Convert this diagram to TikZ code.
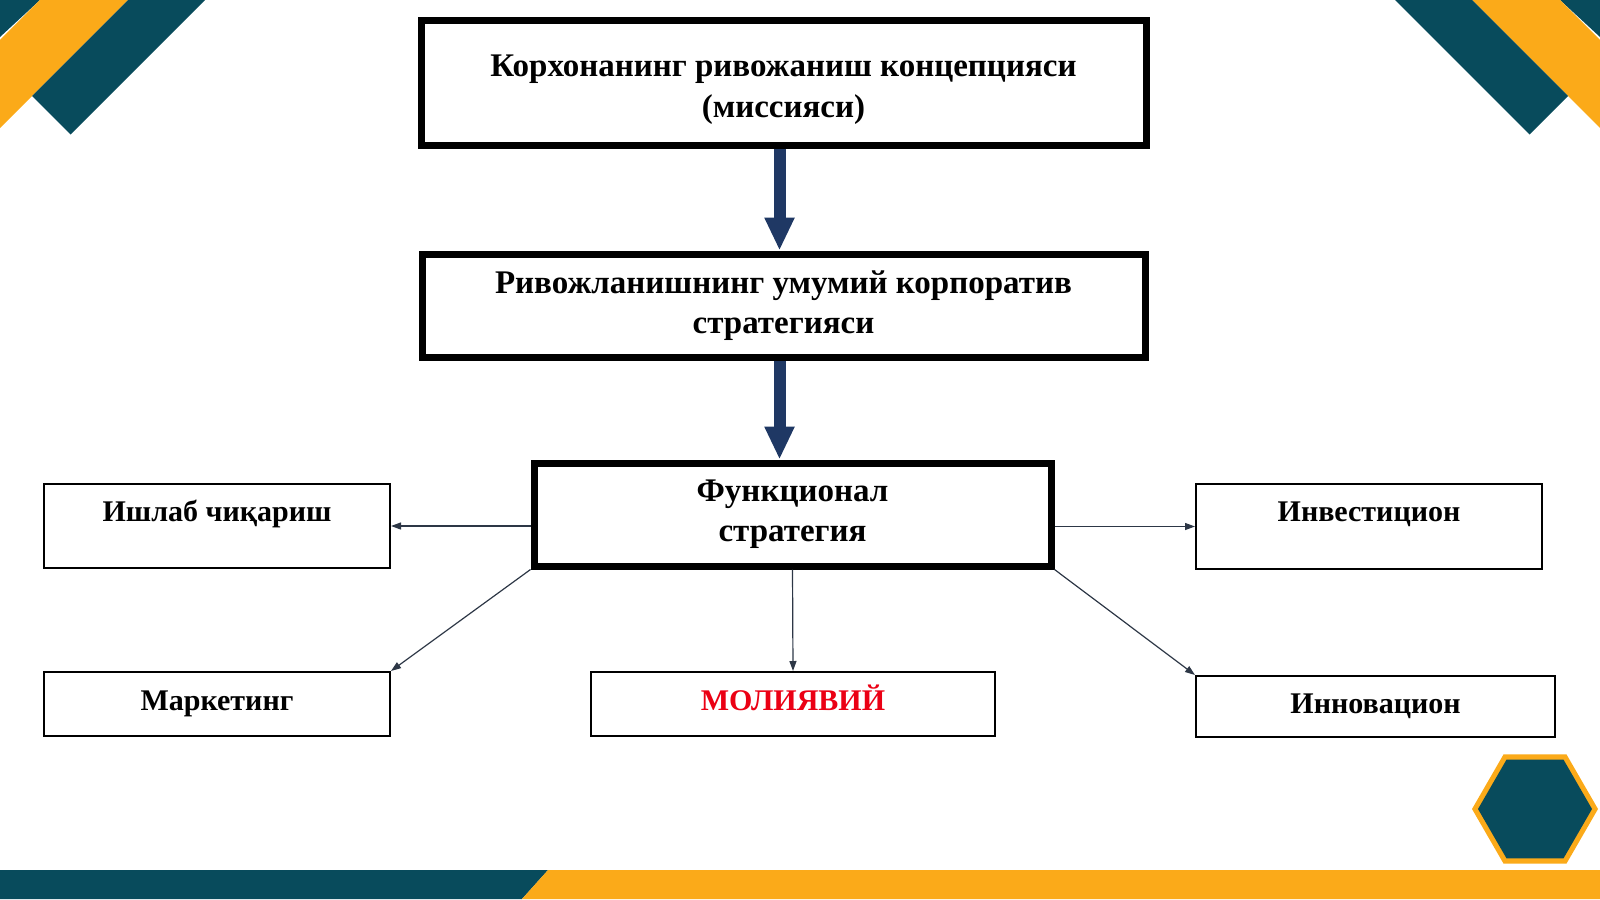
\documentclass[tikz,border=0pt]{standalone}
\usepackage{fontspec}
\setmainfont{Liberation Serif}
\usepackage{xcolor}
\usetikzlibrary{arrows.meta,shapes.geometric}

\definecolor{tealband}{RGB}{8,75,92}
\definecolor{orangeband}{RGB}{251,170,25}
\definecolor{navyarrow}{RGB}{31,56,100}
\definecolor{thinarrow}{RGB}{45,55,70}
\definecolor{redtext}{RGB}{235,0,20}

\tikzset{
  bigbox/.style={draw=black, line width=7pt, inner sep=0pt, align=center,
    font=\fontsize{33}{40}\selectfont\bfseries},
  smallbox/.style={draw=black, line width=2pt, inner sep=0pt, align=center,
    font=\fontsize{30}{36}\selectfont\bfseries},
  fatarrow/.style={draw=navyarrow, line width=12pt, -{Triangle[width=28pt,length=33pt]}},
  thinarr/.style={draw=thinarrow, line width=1.2pt, -{Triangle[width=7pt,length=10pt]}},
}

\begin{document}
\begin{tikzpicture}[x=1pt,y=-1pt]
  \useasboundingbox (0,0) rectangle (1600,899);
  % corners
  \fill[tealband] (0,0) -- (40,0) -- (0,37) -- cycle;
  \fill[orangeband] (40,0) -- (128,0) -- (0,128) -- (0,40) -- cycle;
  \fill[tealband] (128,0) -- (205,0) -- (70.5,134.5) -- (32,96) -- cycle;
  \fill[tealband] (1600,0) -- (1560,0) -- (1600,37) -- cycle;
  \fill[orangeband] (1560,0) -- (1472,0) -- (1600,128) -- (1600,40) -- cycle;
  \fill[tealband] (1472,0) -- (1395,0) -- (1529.5,134.5) -- (1568,96) -- cycle;
  % bottom band
  \fill[tealband] (0,870) -- (548,870) -- (522,899) -- (0,899) -- cycle;
  \fill[orangeband] (548,870) -- (1600,870) -- (1600,899) -- (522,899) -- cycle;
  \node[regular polygon, regular polygon sides=6, minimum size=126pt, inner sep=0pt, fill=orangeband] (hexouter) at (1535,809) {};
  \node[regular polygon, regular polygon sides=6, minimum size=114pt, inner sep=0pt, fill=tealband] (hexinner) at (hexouter.center) {};

  % main boxes
  \node[bigbox, minimum width=725pt, minimum height=124pt, text height=71pt, text depth=3pt] (mission) at (783.5,83) {Корхонанинг ривожаниш концепцияси\\(миссияси)};
  \node[bigbox, minimum width=723pt, minimum height=103pt] (corporate) at (783.5,305.5) {Ривожланишнинг умумий корпоратив\\стратегияси};
  \node[bigbox, minimum width=517pt, minimum height=103pt] (functional) at (792.5,514.5) {Функционал\\стратегия};

  % small boxes
  \node[smallbox, minimum width=346pt, minimum height=84pt, text height=22pt, text depth=32pt] (production) at (217,526) {Ишлаб чиқариш};
  \node[smallbox, minimum width=346pt, minimum height=64pt] (marketing) at (217,704) {Маркетинг};
  \node[smallbox, minimum width=404pt, minimum height=64pt, text height=23pt, text depth=10pt, text=redtext] (finance) at (793,704) {МОЛИЯВИЙ};
  \node[smallbox, minimum width=346pt, minimum height=85pt, text height=22pt, text depth=32pt] (investment) at (1369,526.5) {Инвестицион};
  \node[smallbox, minimum width=359pt, minimum height=61pt] (innovation) at (1375.5,706.5) {Инновацион};

  % arrows
  \draw[fatarrow] ([xshift=-4pt]mission.south) -- ([xshift=-4pt]corporate.north);
  \draw[fatarrow] ([xshift=-4pt]corporate.south) -- ([xshift=-4pt]corporate.south |- functional.north);
  \draw[thinarr] (functional.west |- production.east) -- (production.east);
  \draw[thinarr] (functional.east |- investment.west) -- (investment.west);
  \draw[thinarr] (functional.south west) -- (marketing.north east);
  \draw[thinarr] (functional.south) -- (finance.north);
  \draw[thinarr] (functional.south east) -- (innovation.north west);
\end{tikzpicture}
\end{document}
